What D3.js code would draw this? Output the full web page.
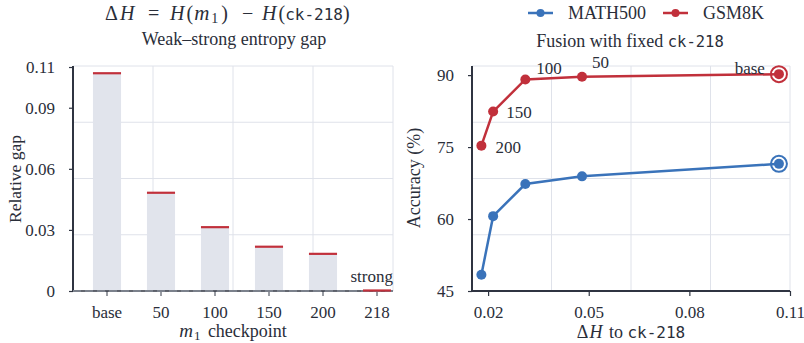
<!DOCTYPE html>
<html>
<head>
<meta charset="utf-8">
<script src="https://cdn.jsdelivr.net/npm/d3@7/dist/d3.min.js"></script>
<style>
  html, body { margin: 0; padding: 0; background: #fff; }
  svg { display: block; }
  svg text { font-family: "Liberation Serif", "Times New Roman", serif; fill: #2a2e39; }
  svg text tspan.mono, svg text.mono { font-family: "DejaVu Sans Mono", "Liberation Mono", monospace; }
</style>
</head>
<body>
<svg id="chart" width="804" height="343"></svg>
<script>
// ---------- data ----------
const categories = ["base", "50", "100", "150", "200", "218"];
const relativeGap = [0.1067, 0.048, 0.0311, 0.0215, 0.018, 0];
const gapTicks = [0, 0.03, 0.06, 0.09, 0.11];

const fusionLabels = ["base", "50", "100", "150", "200"];
const deltaH = [0.1067, 0.048, 0.0311, 0.0215, 0.018];
const math500 = [71.5, 68.9, 67.3, 60.6, 48.4];
const gsm8k = [90.2, 89.65, 89.1, 82.4, 75.3];
const accTicks = [45, 60, 75, 90];
const dhTicks = [0.02, 0.05, 0.08, 0.11];

const svg = d3.select("#chart");
const SERIF = "'Liberation Serif', 'Times New Roman', serif";
const TXT = "#2a2e39", AX = "#2f3441", GRID = "#dfe2ea";
const BLUE = "#3a73ba", RED = "#c1303b", BAR = "#e1e4ec";

// ---------- helpers ----------
function frame(g, x0, x1, y0, y1) {
  const fr = [0.25, 0.5, 0.75];
  fr.forEach(f => {
    const gx = x0 + (x1 - x0) * f, gy = y1 + (y0 - y1) * f;
    g.append("line").attr("x1", gx).attr("x2", gx).attr("y1", y1).attr("y2", y0)
      .attr("stroke", GRID).attr("stroke-width", 1);
    g.append("line").attr("x1", x0).attr("x2", x1).attr("y1", gy).attr("y2", gy)
      .attr("stroke", GRID).attr("stroke-width", 1);
  });
  g.append("line").attr("x1", x0).attr("x2", x1).attr("y1", y1).attr("y2", y1)
    .attr("stroke", GRID).attr("stroke-width", 1);
  g.append("line").attr("x1", x1).attr("x2", x1).attr("y1", y1).attr("y2", y0)
    .attr("stroke", GRID).attr("stroke-width", 1);
}
function styleTicks(g) {
  g.attr("font-family", null);
  g.selectAll(".tick text").attr("font-size", 17).attr("fill", TXT).style("font-family", SERIF);
}

// ---------- left panel ----------
const L = { x0: 73, x1: 393, y0: 291, y1: 66 };
const gL = svg.append("g");
const xBand = d3.scaleBand().domain(categories).range([80, 404])
  .paddingInner(0.48).paddingOuter(0.24);
const yGap = d3.scaleLinear().domain([0, 0.1105]).range([L.y0, L.y1]);

frame(gL, L.x0, L.x1, L.y0, L.y1);

gL.selectAll("rect.bar").data(categories).join("rect")
  .attr("x", d => xBand(d)).attr("width", xBand.bandwidth())
  .attr("y", (d, i) => yGap(relativeGap[i]))
  .attr("height", (d, i) => yGap(0) - yGap(relativeGap[i]))
  .attr("fill", BAR);

const yAxL = d3.axisLeft(yGap).tickValues(gapTicks)
  .tickFormat(d => d === 0 ? "0" : d3.format(".2f")(d)).tickSize(4).tickPadding(14);
const gyL = gL.append("g").attr("transform", `translate(${L.x0},0)`).call(yAxL);
gyL.select(".domain").attr("stroke", AX).attr("stroke-width", 2)
  .attr("d", `M0,${L.y0}V${L.y1}`);
gyL.selectAll(".tick line").attr("stroke", AX).attr("stroke-width", 1.2);
styleTicks(gyL);

const xAxL = d3.axisBottom(xBand).tickSize(5).tickPadding(10);
const gxL = gL.append("g").attr("transform", `translate(0,${L.y0})`).call(xAxL);
gxL.select(".domain").remove();
gxL.selectAll(".tick line").attr("stroke", "#555a66").attr("stroke-width", 1.2);
styleTicks(gxL);
gL.append("line").attr("x1", L.x0).attr("x2", L.x1).attr("y1", L.y0).attr("y2", L.y0)
  .attr("stroke", AX).attr("stroke-width", 1.5);
gL.append("line").attr("x1", L.x0).attr("x2", L.x1).attr("y1", yGap(0)).attr("y2", yGap(0))
  .attr("stroke", "#7b818c").attr("stroke-width", 2.2).attr("stroke-dasharray", "8,4");

gL.selectAll("line.cap").data(categories).join("line")
  .attr("x1", d => xBand(d)).attr("x2", d => xBand(d) + xBand.bandwidth())
  .attr("y1", (d, i) => yGap(relativeGap[i]) - 0.5).attr("y2", (d, i) => yGap(relativeGap[i]) - 0.5)
  .attr("stroke", RED).attr("stroke-width", 2.2);

gL.append("text").attr("x", L.x1).attr("y", yGap(0) - 9)
  .attr("text-anchor", "end").attr("font-size", 17).text("strong");

gL.append("text").attr("transform", `translate(21,179) rotate(-90)`)
  .attr("text-anchor", "middle").attr("font-size", 17.5).text("Relative gap");
const xtL = gL.append("text").attr("x", 233).attr("y", 337).attr("text-anchor", "middle").attr("font-size", 18);
xtL.append("tspan").attr("font-style", "italic").attr("font-size", 19).text("m");
xtL.append("tspan").attr("font-size", 13).attr("dy", 3).attr("dx", 1).text("1");
xtL.append("tspan").attr("dy", -3).attr("dx", 3).text(" checkpoint");

// title (math)
const t1 = gL.append("text").attr("y", 20).attr("font-size", 20);
t1.append("tspan").attr("x", 105).text("Δ");
t1.append("tspan").attr("font-style", "italic").attr("dx", 2).text("H");
t1.append("tspan").attr("x", 148).text("=");
t1.append("tspan").attr("x", 170).attr("font-style", "italic").text("H");
t1.append("tspan").attr("dx", 2).text("(");
t1.append("tspan").attr("font-style", "italic").attr("font-size", 21).attr("dx", 1).text("m");
t1.append("tspan").attr("font-size", 14).attr("dy", 3).attr("dx", 2).text("1");
t1.append("tspan").attr("dy", -3).attr("dx", 3).text(")");
t1.append("tspan").attr("x", 242).text("−");
t1.append("tspan").attr("x", 262).attr("font-style", "italic").text("H");
t1.append("tspan").attr("dx", 2).text("(");
t1.append("tspan").attr("class", "mono").attr("font-size", 16).text("ck-218");
t1.append("tspan").text(")");

gL.append("text").attr("x", 234).attr("y", 45).attr("text-anchor", "middle")
  .attr("font-size", 18).text("Weak–strong entropy gap");

// ---------- right panel ----------
const R = { x0: 472, x1: 790, y0: 291, y1: 66 };
const gR = svg.append("g");
const xDH = d3.scaleLinear().domain([0.0152, 0.11]).range([R.x0, R.x1]);
const yAcc = d3.scaleLinear().domain([45, 91.9]).range([R.y0, R.y1]);

frame(gR, R.x0, R.x1, R.y0, R.y1);

const yAxR = d3.axisLeft(yAcc).tickValues(accTicks).tickFormat(d3.format("d")).tickSize(4).tickPadding(14);
const gyR = gR.append("g").attr("transform", `translate(${R.x0},0)`).call(yAxR);
gyR.select(".domain").attr("stroke", AX).attr("stroke-width", 2).attr("d", `M0,${R.y0}V${R.y1}`);
gyR.selectAll(".tick line").attr("stroke", AX).attr("stroke-width", 1.2);
styleTicks(gyR);

const xAxR = d3.axisBottom(xDH).tickValues(dhTicks).tickFormat(d3.format(".2f")).tickSize(5).tickPadding(10);
const gxR = gR.append("g").attr("transform", `translate(0,${R.y0})`).call(xAxR);
gxR.select(".domain").attr("stroke", AX).attr("stroke-width", 2).attr("d", `M${R.x0},0H${R.x1}`);
gxR.selectAll(".tick line").attr("stroke", AX).attr("stroke-width", 1.2);
styleTicks(gxR);

const series = [
  { name: "MATH500", vals: math500, color: BLUE },
  { name: "GSM8K", vals: gsm8k, color: RED }
];
const line = d3.line().x(d => xDH(d[0])).y(d => yAcc(d[1]));
series.forEach(s => {
  const pts = deltaH.map((d, i) => [d, s.vals[i]]);
  gR.append("path").datum(pts).attr("d", line).attr("fill", "none")
    .attr("stroke", s.color).attr("stroke-width", 2.5);
  gR.selectAll(null).data(pts).join("circle")
    .attr("cx", d => xDH(d[0])).attr("cy", d => yAcc(d[1])).attr("r", 5)
    .attr("fill", s.color);
  gR.append("circle").attr("cx", xDH(pts[0][0])).attr("cy", yAcc(pts[0][1])).attr("r", 8)
    .attr("fill", "none").attr("stroke", s.color).attr("stroke-width", 2);
});

const labOff = { "base": [-14, 0, "end"], "50": [10, -9, "start"], "100": [11, -5, "start"],
                 "150": [13, 6, "start"], "200": [14, 7, "start"] };
gR.selectAll("text.plab").data(fusionLabels).join("text")
  .attr("x", (d, i) => xDH(deltaH[i]) + labOff[d][0])
  .attr("y", (d, i) => yAcc(gsm8k[i]) + labOff[d][1])
  .attr("text-anchor", d => labOff[d][2]).attr("font-size", 17)
  .style("font-family", SERIF).text(d => d);

gR.append("text").attr("transform", `translate(420,178) rotate(-90)`)
  .attr("text-anchor", "middle").attr("font-size", 18).text("Accuracy (%)");
const xtR = gR.append("text").attr("x", 631).attr("y", 338).attr("text-anchor", "middle").attr("font-size", 18);
xtR.append("tspan").text("Δ");
xtR.append("tspan").attr("font-style", "italic").attr("dx", 1).text("H");
xtR.append("tspan").attr("dx", 2).text(" to ");
xtR.append("tspan").attr("class", "mono").attr("font-size", 16).text("ck-218");

const t2 = gR.append("text").attr("x", 630).attr("y", 47).attr("text-anchor", "middle").attr("font-size", 18);
t2.append("tspan").text("Fusion with fixed ");
t2.append("tspan").attr("class", "mono").attr("font-size", 15.5).text("ck-218");

// legend
const leg = gR.append("g");
const legX = [528, 663];
series.forEach((s, i) => {
  const lx = legX[i];
  leg.append("line").attr("x1", lx).attr("x2", lx + 25).attr("y1", 13).attr("y2", 13)
    .attr("stroke", s.color).attr("stroke-width", 2.5);
  leg.append("circle").attr("cx", lx + 12.5).attr("cy", 13).attr("r", 4).attr("fill", s.color);
  leg.append("text").attr("x", lx + 40).attr("y", 19).attr("font-size", 18)
    .style("font-family", SERIF).text(s.name);
});
</script>
</body>
</html>
